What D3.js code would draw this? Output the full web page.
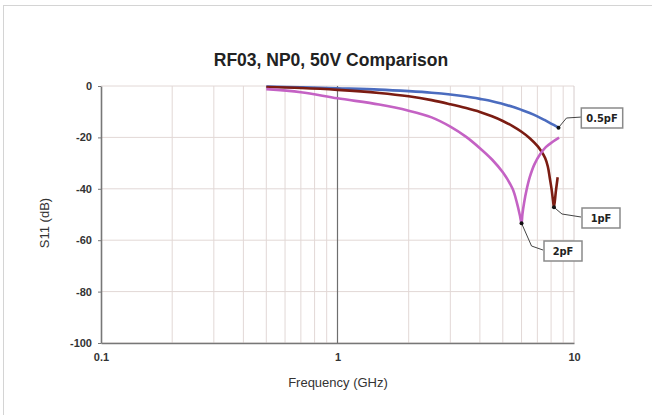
<!DOCTYPE html>
<html>
<head>
<meta charset="utf-8">
<script src="https://cdn.jsdelivr.net/npm/d3@7"></script>
<style>
  body { margin: 0; background: #fff; }
  svg { display: block; font-family: "Liberation Sans", Arial, sans-serif; }
</style>
</head>
<body>
<svg id="chart" width="652" height="415"></svg>
<script>
// S11 vs frequency, three capacitor values
const title = 'RF03, NP0, 50V Comparison';
const yTicks = [0, -20, -40, -60, -80, -100];
const xTicks = [0.1, 1, 10];

const freq05 = [0.5, 0.7, 1, 1.5, 2, 2.5, 3, 3.5, 4, 4.5, 5, 5.5, 6, 6.5, 7, 7.5, 8, 8.6];
const db05   = [-0.2, -0.5, -0.9, -1.4, -2.0, -2.6, -3.3, -4.1, -5.0, -5.9, -7.0, -8.1, -9.3, -10.5, -11.8, -13.2, -14.6, -16.2];

const freq1 = [0.5, 0.7, 1, 1.5, 2, 2.5, 3, 3.5, 4, 4.5, 5, 5.5, 6, 6.5, 7, 7.2, 7.55, 7.75, 7.9, 8.05, 8.15, 8.23, 8.38, 8.53];
const db1   = [-0.4, -0.8, -1.5, -2.7, -4.0, -5.5, -7.1, -8.6, -10.1, -11.8, -13.6, -15.6, -17.8, -20.3, -23.3, -24.8, -28.0, -31.3, -35.8, -40.5, -44.5, -47.2, -41.0, -35.5];

const freq2 = [0.5, 0.7, 1, 1.5, 2, 2.5, 3, 3.5, 4, 4.5, 5, 5.5, 5.74, 5.9, 6.0, 6.05, 6.15, 6.3, 6.5, 6.8, 7.2, 7.6, 8.1, 8.65];
const db2   = [-1.2, -2.4, -4.8, -7.2, -9.6, -12.2, -15.8, -19.8, -24.2, -28.6, -33.6, -40.0, -45.6, -50.2, -53.4, -50.0, -45.5, -40.5, -35.5, -30.5, -26.5, -23.8, -21.8, -20.1];

const series = [
  { name: '0.5pF', f: freq05, db: db05, color: '#4b6cbf', label: [585, 118], dot: freq05.length - 1 },
  { name: '1pF',   f: freq1,  db: db1,  color: '#7b1c12', label: [584, 218], dot: 21 },
  { name: '2pF',   f: freq2,  db: db2,  color: '#c462c4', label: [546, 251], dot: 14 }
];

const svg = d3.select('#chart');
const margin = { left: 101, right: 574, top: 86, bottom: 343 };

const x = d3.scaleLog().domain([0.1, 10]).range([margin.left, margin.right]);
const y = d3.scaleLinear().domain([-100, 0]).range([margin.bottom, margin.top]);

// chart area border
svg.append('rect')
  .attr('x', 3.5).attr('y', 5.5).attr('width', 700).attr('height', 500)
  .attr('fill', '#fff').attr('stroke', '#d4d4d4');

// title
svg.append('text')
  .attr('x', 331).attr('y', 66)
  .attr('text-anchor', 'middle')
  .attr('font-size', 17.5).attr('font-weight', 'bold').attr('fill', '#222')
  .text(title);

// grid: minor log lines
const minor = [];
[0.1, 1].forEach(d => { for (let k = 2; k <= 9; k++) minor.push(d * k); });
svg.append('g').selectAll('line').data(minor).join('line')
  .attr('x1', d => x(d)).attr('x2', d => x(d))
  .attr('y1', margin.top).attr('y2', margin.bottom)
  .attr('stroke', '#e2d8d6').attr('stroke-width', 1);

svg.append('g').selectAll('line').data(yTicks).join('line')
  .attr('x1', margin.left).attr('x2', margin.right)
  .attr('y1', d => y(d)).attr('y2', d => y(d))
  .attr('stroke', '#e2d8d6').attr('stroke-width', 1);

// right border light, x=1 major darker
svg.append('line')
  .attr('x1', x(10)).attr('x2', x(10)).attr('y1', margin.top).attr('y2', margin.bottom)
  .attr('stroke', '#d6cccc');
svg.append('line')
  .attr('x1', x(1)).attr('x2', x(1)).attr('y1', margin.top).attr('y2', margin.bottom)
  .attr('stroke', '#6e6e6e').attr('stroke-width', 1.2);

// axes
const yAxis = svg.append('g')
  .attr('transform', `translate(${margin.left},0)`)
  .call(d3.axisLeft(y).tickValues(yTicks).tickFormat(d => String(d)).tickSizeInner(3).tickSizeOuter(0).tickPadding(6));
const xAxis = svg.append('g')
  .attr('transform', `translate(0,${margin.bottom})`)
  .call(d3.axisBottom(x).tickValues(xTicks).tickFormat(d => String(d)).tickSize(0).tickPadding(10));

[yAxis, xAxis].forEach(a => {
  a.select('.domain').attr('stroke', '#777').attr('stroke-width', 1.6);
  a.selectAll('.tick line').attr('stroke', '#777');
  a.selectAll('.tick text').attr('fill', '#333').attr('font-size', 11)
    .attr('font-weight', 'bold').attr('font-family', '"Liberation Sans", Arial, sans-serif');
});

// axis titles
svg.append('text')
  .attr('x', 338).attr('y', 387)
  .attr('text-anchor', 'middle').attr('font-size', 13).attr('fill', '#333')
  .text('Frequency (GHz)');
svg.append('text')
  .attr('transform', 'translate(49,223) rotate(-90)')
  .attr('text-anchor', 'middle').attr('font-size', 13).attr('fill', '#333')
  .text('S11 (dB)');

// curves
const line = d3.line()
  .x(d => x(d[0])).y(d => y(d[1]))
  .curve(d3.curveCatmullRom.alpha(0.5));

series.forEach(s => {
  const pts = s.f.map((f, i) => [f, s.db[i]]);
  svg.append('path')
    .datum(pts)
    .attr('d', line)
    .attr('fill', 'none')
    .attr('stroke', s.color)
    .attr('stroke-width', 2.6)
    .attr('stroke-linejoin', 'round');
});

// data labels with leader lines
series.forEach(s => {
  const px = x(s.f[s.dot]), py = y(s.db[s.dot]);
  const [lx, ly] = s.label;
  const g = svg.append('g');
  const midX = s.name === '2pF' ? px + 10 : px + 8;
  const midY = s.name === '2pF' ? ly - 5 : (s.name === '1pF' ? ly - 4 : ly);
  g.append('polyline')
    .attr('points', `${px},${py} ${midX},${midY} ${lx - 3},${ly - 1}`)
    .attr('fill', 'none').attr('stroke', '#444').attr('stroke-width', 1);
  g.append('circle').attr('cx', px).attr('cy', py).attr('r', 2).attr('fill', '#111');

  const t = g.append('text')
    .attr('x', lx + 17).attr('y', ly + 4)
    .attr('text-anchor', 'middle')
    .attr('font-size', 11).attr('font-weight', 'bold').attr('fill', '#222')
    .attr('font-family', '"DejaVu Sans Condensed", "DejaVu Sans", sans-serif')
    .text(s.name);
  const bb = t.node().getBBox();
  const w = Math.max(bb.width + 10, 38);
  g.insert('rect', 'text')
    .attr('x', lx + 17 - w / 2).attr('y', ly - 10)
    .attr('width', w).attr('height', 20)
    .attr('fill', '#fff').attr('stroke', '#8a8a8a').attr('stroke-width', 1.5);
});
</script>
</body>
</html>
